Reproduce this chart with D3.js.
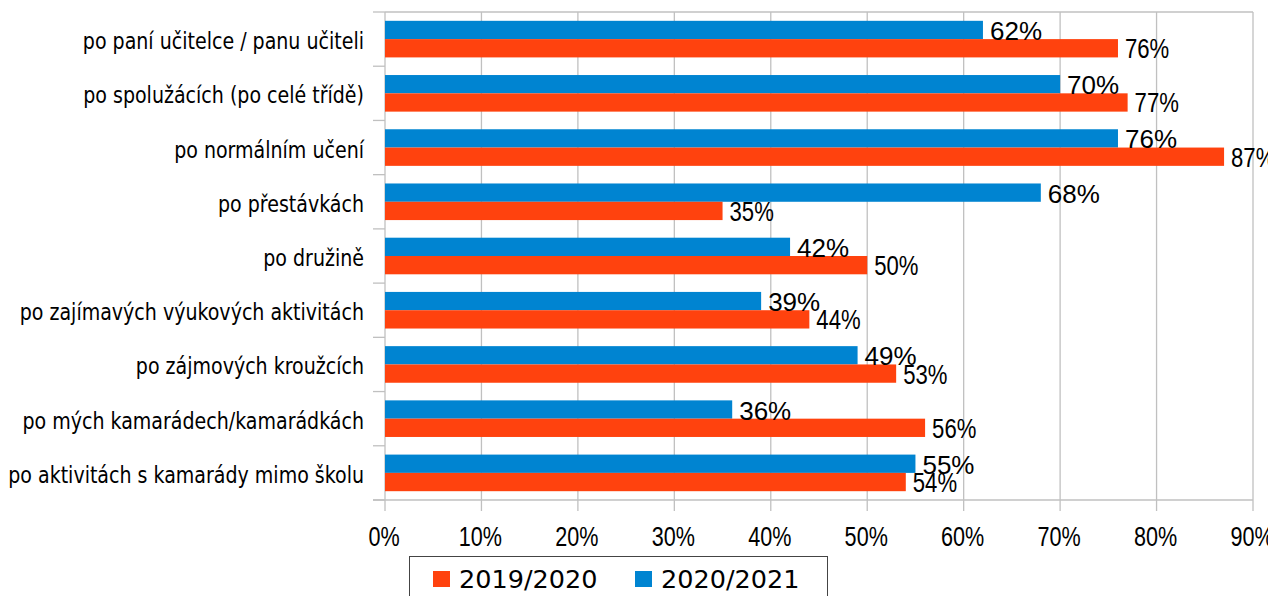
<!DOCTYPE html>
<html>
<head>
<meta charset="utf-8">
<script src="https://cdn.jsdelivr.net/npm/d3@7"></script>
<style>
  body { margin: 0; background: #fff; }
  svg { display: block; }
</style>
</head>
<body>
<div id="canvas"></div>
<script>
// categories top to bottom
var categories = [
    'po paní učitelce / panu učiteli',
    'po spolužácích (po celé třídě)',
    'po normálním učení',
    'po přestávkách',
    'po družině',
    'po zajímavých výukových aktivitách',
    'po zájmových kroužcích',
    'po mých kamarádech/kamarádkách',
    'po aktivitách s kamarády mimo školu'
];
var series = ['2020/2021', '2019/2020'];   // blue on top, red below
var values2020 = [62, 70, 76, 68, 42, 39, 49, 36, 55];
var values2019 = [76, 77, 87, 35, 50, 44, 53, 56, 54];
var xTicks = [0, 10, 20, 30, 40, 50, 60, 70, 80, 90];
var legendOrder = ['2019/2020', '2020/2021'];

var colors = {'2019/2020': '#ff420e', '2020/2021': '#0084d1'};

var W = 1268, H = 596;
var m = {t:12, r:15, b:96, l:385};
var w = 1253 - m.l, h = 500 - m.t;

var svg = d3.select('#canvas').append('svg')
    .attr('width', W).attr('height', H);
var plot = svg.append('g').attr('transform', 'translate(' + m.l + ',' + m.t + ')');

var scaleX = d3.scaleLinear().domain([0, 90]).range([0, w]);
var scaleY = d3.scaleBand().domain(categories).range([0, h])
    .paddingInner(0.325).paddingOuter(0.1625);
var scaleS = d3.scaleBand().domain(series).range([0, scaleY.bandwidth()]);

var rows = categories.map(function(c, i){
    return {cat: c, vals: [
        {s: '2020/2021', v: values2020[i]},
        {s: '2019/2020', v: values2019[i]}
    ]};
});

var grid = '#c0c0c0';

// vertical gridlines
plot.selectAll('.grid').data(xTicks).enter().append('line')
    .attr('x1', function(d){ return scaleX(d); })
    .attr('x2', function(d){ return scaleX(d); })
    .attr('y1', 0).attr('y2', h + 11)
    .style('stroke', grid).style('stroke-width', 1.3);

// top + bottom border lines
plot.append('line').attr('x1', 0).attr('x2', w).attr('y1', 0).attr('y2', 0)
    .style('stroke', grid).style('stroke-width', 1.3);
plot.append('line').attr('x1', -12).attr('x2', w).attr('y1', h).attr('y2', h)
    .style('stroke', grid).style('stroke-width', 1.3);

// category boundary ticks on the left
var step = scaleY.step();
plot.selectAll('.ytick').data(d3.range(categories.length + 1)).enter().append('line')
    .attr('x1', -12).attr('x2', 0)
    .attr('y1', function(i){ return i * step; })
    .attr('y2', function(i){ return i * step; })
    .style('stroke', grid).style('stroke-width', 1.3);

// bars
var groups = plot.selectAll('.cat').data(rows).enter().append('g')
    .attr('transform', function(d){ return 'translate(0,' + scaleY(d.cat) + ')'; });

groups.selectAll('rect').data(function(d){ return d.vals; }).enter().append('rect')
    .attr('x', 0)
    .attr('y', function(d){ return scaleS(d.s); })
    .attr('width', function(d){ return scaleX(d.v); })
    .attr('height', scaleS.bandwidth())
    .style('fill', function(d){ return colors[d.s]; });

// value labels: blue ones normal width, red ones narrower
groups.selectAll('text').data(function(d){ return d.vals; }).enter().append('text')
    .attr('transform', function(d){
        var tx = scaleX(d.v) + 7, ty = scaleS(d.s) + scaleS.bandwidth() / 2 + 10;
        var sx = d.s == '2020/2021' ? 1 : 0.82;
        return 'translate(' + tx + ',' + ty + ') scale(' + sx + ',1)';
    })
    .style('font-family', 'Liberation Sans')
    .style('font-size', function(d){ return d.s == '2020/2021' ? '26px' : '27px'; })
    .style('fill', '#000')
    .text(function(d){ return d.v + '%'; });

// category labels
plot.selectAll('.clabel').data(categories).enter().append('text')
    .attr('transform', function(d){
        return 'translate(-21,' + (scaleY(d) + scaleY.bandwidth() / 2 + 10) + ') scale(0.92,1)';
    })
    .attr('text-anchor', 'end')
    .style('font-family', 'DejaVu Sans Condensed')
    .style('font-size', '23px')
    .style('fill', '#000')
    .text(function(d){ return d; });

// x tick labels
plot.selectAll('.xlabel').data(xTicks).enter().append('text')
    .attr('transform', function(d){
        return 'translate(' + (scaleX(d) - 1) + ',' + (h + 46) + ') scale(0.8,1)';
    })
    .attr('text-anchor', 'middle')
    .style('font-family', 'Liberation Sans')
    .style('font-size', '27px')
    .style('fill', '#000')
    .text(function(d){ return d + '%'; });

// legend
var legend = svg.append('g');
legend.append('rect')
    .attr('x', 409.5).attr('y', 556.5).attr('width', 418).attr('height', 60)
    .style('fill', '#fff').style('stroke', '#444').style('stroke-width', 1);

var lx = [433, 635];
var li = legend.selectAll('.li').data(legendOrder).enter().append('g')
    .attr('transform', function(d, i){ return 'translate(' + lx[i] + ',571)'; });
li.append('rect').attr('width', 17).attr('height', 16)
    .style('fill', function(d){ return colors[d]; });
li.append('text').attr('x', 26).attr('y', 17)
    .style('font-family', 'DejaVu Sans')
    .style('font-size', '25.5px')
    .style('fill', '#000')
    .text(function(d){ return d; });
</script>
</body>
</html>
